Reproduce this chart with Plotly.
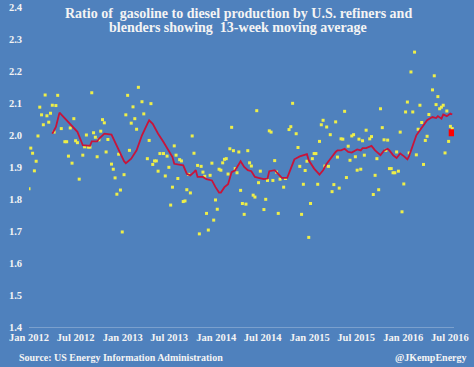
import pandas as pd
import plotly.graph_objects as go

# Weekly ratio of gasoline to diesel production (week index from 1 Jan 2012)
start_date = "2012-01-01"
weekly_ratio = [
    1.832, 1.959, 1.943, 1.888, 1.918, 1.997, 2.087, 2.063, 2.032, 2.125,   # 0-9
    2.060, 2.040, 2.068, 2.093, 2.009, 2.092, 2.124, None, 2.020, None,     # 10-19
    1.979, 1.979, 1.934, 2.022, 1.912, 2.051, 1.982, 1.976, 1.862, None,    # 20-29
    1.937, 1.963, 2.000, 1.962, 1.962, 2.132, 2.007, 1.993, 1.932, 1.985,   # 30-39
    2.012, 2.048, 2.038, 1.947, 1.986, None, 1.909, 1.893, 1.866, 1.815,    # 40-49
    1.940, 1.828, 1.697, 1.876, 2.063, 2.124, 1.952, 2.037, 2.088, 2.051,   # 50-59
    2.018, 2.149, None, 2.104, 2.066, None, 1.926, 1.983, 2.098, 1.908,     # 60-69
    1.919, 1.919, 1.887, 1.942, None, 1.942, 1.872, 1.934, 1.899, 1.781,    # 70-79
    1.837, 1.966, 1.937, 1.864, 1.923, 1.919, 1.792, 1.794, 1.829, 1.877,   # 80-89
    1.819, 1.997, 1.943, None, 1.905, 1.691, 1.902, 1.884, 1.871, 1.755,    # 90-99
    1.703, 1.874, 1.912, 1.734, 1.797, 1.768, 1.893, 1.890, 1.913, 1.924,   # 100-109
    1.926, 1.878, 1.957, 2.024, 1.951, 1.895, 1.882, 1.947, 1.827, 1.786,   # 110-119
    1.752, 1.784, 1.951, 1.913, 1.903, 1.812, 1.806, 2.076, 1.851, 1.887,   # 120-129
    None, 1.767, 1.799, 1.858, 2.013, 2.009, 1.858, 1.920, 1.884, 1.755,    # 130-139
    1.862, None, 1.837, 1.864, None, 2.017, 2.026, 2.099, None, 2.004,      # 140-149
    1.961, 1.902, 1.752, 1.846, 1.889, 1.918, 1.680, 1.786, 1.926, 1.942,   # 150-159
    1.942, 1.846, 1.980, 2.032, 2.046, 1.903, 2.025, 1.902, 2.001, 1.823,   # 160-169
    1.845, 2.041, 1.931, 1.834, 1.988, 1.987, 2.074, 1.867, 1.965, 1.921,   # 170-179
    1.997, 2.001, 1.932, 1.890, 1.987, 1.893, 1.982, 1.937, 2.015, None,    # 180-189
    1.988, 1.995, 1.814, 1.874, 1.926, 1.829, 2.082, 2.023, 1.985, 1.952,   # 190-199
    1.984, 1.895, 1.895, 1.882, 1.882, 1.947, 1.887, 2.009, 1.760, 1.847,   # 200-209
    2.072, 2.103, 1.944, 2.197, 2.072, 2.259, 1.938, 2.018, 2.093, 2.039,   # 210-219
    1.908, 1.983, 1.996, 2.064, None, 2.141, 2.185, 2.095, 2.120, 2.082,    # 220-229
    2.087, 2.093, 1.944, 2.075, 1.980, 2.027, 2.020,                        # 230-236
]

# 13-week moving average (week index, value)
ma_weeks = [13, 15, 17, 22, 24, 27, 30, 34, 35, 38, 39, 42, 46, 48, 50, 53, 54, 57, 60,
            63, 66, 67, 69, 72, 75, 78, 80, 81, 84, 86, 88, 90, 92, 93, 94, 97, 99, 102,
            104, 106, 107, 109, 111, 113, 115, 118, 120, 122, 124, 126, 128, 131, 133,
            134, 137, 139, 141, 144, 146, 148, 151, 153, 155, 156, 159, 162, 164, 166,
            168, 171, 172, 174, 176, 178, 180, 183, 185, 186, 188, 191, 193, 196, 198,
            200, 201, 203, 205, 207, 209, 211, 212, 214, 216, 218, 220, 222, 224, 225,
            227, 228, 230, 231, 233, 235, 236]
ma_values = [2.004, 2.025, 2.070, 2.040, 2.025, 2.010, 1.968, 1.966, 1.980, 1.980, 1.988,
             2.004, 2.001, 1.978, 1.955, 1.918, 1.912, 1.926, 1.952, 1.999, 2.035, 2.046,
             2.035, 2.004, 1.978, 1.952, 1.931, 1.910, 1.907, 1.905, 1.879, 1.874, 1.884,
             1.890, 1.869, 1.869, 1.862, 1.858, 1.837, 1.820, 1.820, 1.837, 1.846, 1.884,
             1.890, 1.918, 1.900, 1.890, 1.887, 1.869, 1.866, 1.862, 1.864, 1.887, 1.890,
             1.879, 1.866, 1.866, 1.895, 1.924, 1.933, 1.937, 1.940, 1.921, 1.895, 1.876,
             1.890, 1.910, 1.926, 1.947, 1.952, 1.952, 1.957, 1.947, 1.945, 1.955, 1.952,
             1.959, 1.959, 1.966, 1.952, 1.937, 1.952, 1.957, 1.952, 1.937, 1.928, 1.942,
             1.934, 1.924, 1.935, 1.968, 1.999, 2.015, 2.030, 2.046, 2.053, 2.056, 2.053,
             2.059, 2.051, 2.064, 2.059, 2.067, 2.064]

latest_week = [236]
latest_value = [2.007]

tick_dates = ["2012-01-01", "2012-07-01", "2013-01-01", "2013-07-01", "2014-01-01",
              "2014-07-01", "2015-01-01", "2015-07-01", "2016-01-01", "2016-07-01"]
tick_labels = ["Jan 2012", "Jul 2012", "Jan 2013", "Jul 2013", "Jan 2014",
               "Jul 2014", "Jan 2015", "Jul 2015", "Jan 2016", "Jul 2016"]

title_lines = ["Ratio of  gasoline to diesel production by U.S. refiners and",
               "blenders showing  13-week moving average"]
source_text = "Source: US Energy Information Administration"
credit_text = "@JKempEnergy"

base = pd.Timestamp(start_date)
def to_dates(weeks):
    return [base + pd.Timedelta(weeks=w) for w in weeks]

scatter_dates = to_dates(range(len(weekly_ratio)))

BG = "#4F81BD"
FONT = "Liberation Serif, Times New Roman, serif"
TXT = "#F4F4F4"

W, H = 474, 367
L, R, T, B = 29, 20, 7, 40
PW, PH = W - L - R, H - T - B

def px_x(x):
    return (x - L) / PW

def px_y(y):
    return 1 - (y - T) / PH

fig = go.Figure()
fig.add_trace(go.Scatter(
    x=scatter_dates, y=weekly_ratio, mode="markers",
    marker=dict(symbol="square", size=3, color="#EEEE48", line=dict(width=0)),
    showlegend=False, hoverinfo="skip"))
fig.add_trace(go.Scatter(
    x=to_dates(ma_weeks), y=ma_values, mode="lines",
    line=dict(color="#C8143A", width=1.8), showlegend=False, hoverinfo="skip"))
fig.add_trace(go.Scatter(
    x=to_dates(latest_week), y=latest_value, mode="markers",
    marker=dict(symbol="square", size=7, color="#FF0000", line=dict(width=0)),
    showlegend=False, hoverinfo="skip"))

annots = []
for i, line in enumerate(title_lines):
    annots.append(dict(
        text=line, x=px_x(238), xref="paper", xanchor="center",
        y=px_y(13 + 14 * i), yref="paper", yanchor="middle", showarrow=False,
        font=dict(family=FONT, size=14, color=TXT, weight="bold")))
annots.append(dict(
    text=source_text, x=px_x(17), xref="paper", xanchor="left",
    y=px_y(357), yref="paper", yanchor="middle", showarrow=False,
    font=dict(family=FONT, size=10, color=TXT, weight="bold")))
annots.append(dict(
    text=credit_text, x=px_x(469), xref="paper", xanchor="right",
    y=px_y(357), yref="paper", yanchor="middle", showarrow=False,
    font=dict(family=FONT, size=10, color=TXT, weight="bold")))

fig.update_layout(
    width=W, height=H,
    margin=dict(l=L, r=R, t=T, b=B, autoexpand=False),
    paper_bgcolor=BG, plot_bgcolor=BG,
    xaxis=dict(
        range=["2012-01-01", "2016-07-17"],
        tickmode="array", tickvals=tick_dates, ticktext=tick_labels,
        showgrid=False, zeroline=False,
        showline=True, linecolor="rgba(255,255,255,0.25)", linewidth=1,
        ticks="", tickfont=dict(family=FONT, size=10.5, color=TXT, weight="bold")),
    yaxis=dict(
        range=[1.4, 2.4], dtick=0.1, tick0=1.4, tickformat=".1f",
        showgrid=False, zeroline=False, showline=False, ticks="",
        ticklabelstandoff=6,
        tickfont=dict(family=FONT, size=10.5, color=TXT, weight="bold")),
    annotations=annots,
)

fig.write_html("out.html", config={"displayModeBar": False},
               post_script="document.body.style.margin='0';document.body.style.background='" + BG + "';")
